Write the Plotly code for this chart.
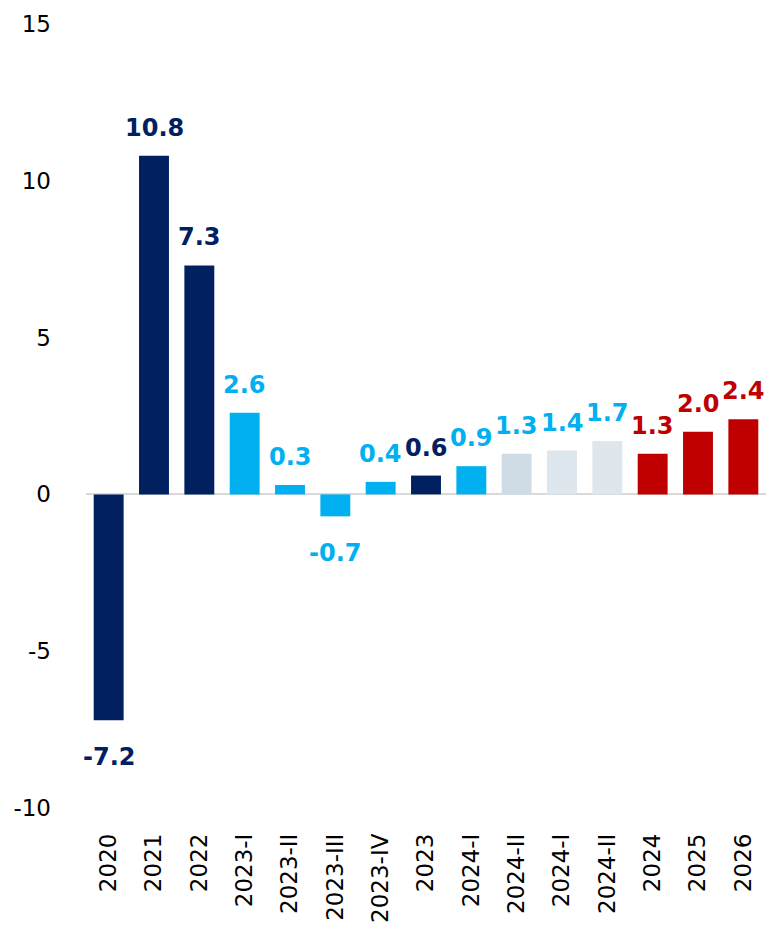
import plotly.graph_objects as go

periods = ["2020", "2021", "2022", "2023-I", "2023-II", "2023-III", "2023-IV",
           "2023", "2024-I", "2024-II", "2024-I", "2024-II", "2024", "2025", "2026"]
growth = [-7.2, 10.8, 7.3, 2.6, 0.3, -0.7, 0.4, 0.6, 0.9, 1.3, 1.4, 1.7, 1.3, 2.0, 2.4]
y_ticks = [-10, -5, 0, 5, 10, 15]

NAVY = "#002060"
BLUE = "#00b0f0"
GREY1 = "#cfdce6"
GREY2 = "#dee6ee"
RED = "#c00000"

bar_colors = [NAVY, NAVY, NAVY, BLUE, BLUE, BLUE, BLUE, NAVY, BLUE,
              GREY1, GREY2, GREY2, RED, RED, RED]
label_colors = [NAVY, NAVY, NAVY, BLUE, BLUE, BLUE, BLUE, NAVY, BLUE,
                BLUE, BLUE, BLUE, RED, RED, RED]

x_pos = list(range(len(periods)))

fig = go.Figure(go.Bar(
    x=x_pos, y=growth, marker_color=bar_colors, marker_line_width=0,
    hoverinfo="skip",
))

for xi, v, c in zip(x_pos, growth, label_colors):
    fig.add_annotation(
        x=xi, y=v, text=f"{v:.1f}", showarrow=False,
        yanchor="bottom" if v >= 0 else "top",
        yshift=12 if v >= 0 else -21,
        font=dict(family="DejaVu Sans", size=24, color=c, weight="bold"),
    )

fig.update_layout(
    width=766, height=943,
    margin=dict(l=86, r=0, t=24, b=135),
    paper_bgcolor="white", plot_bgcolor="white",
    bargap=0.34, showlegend=False,
    font=dict(family="DejaVu Sans", size=23, color="black"),
    xaxis=dict(
        tickmode="array", tickvals=x_pos, ticktext=periods,
        tickangle=-90, range=[-0.5, len(periods) - 0.5],
        showgrid=False, showline=False, zeroline=False,
        ticks="", ticklabelstandoff=20, automargin=False,
    ),
    yaxis=dict(
        range=[-10, 15], tickmode="array", tickvals=y_ticks,
        ticktext=[str(t) for t in y_ticks],
        showgrid=False, showline=False,
        zeroline=True, zerolinecolor="#d9d9d9", zerolinewidth=2,
        ticks="", ticklabelstandoff=34, automargin=False,
    ),
)

# page body has an 8px default margin; drop it so the figure fills the window
fig.write_html("out.html", config={"displayModeBar": False},
               post_script="document.body.style.margin='0';")
